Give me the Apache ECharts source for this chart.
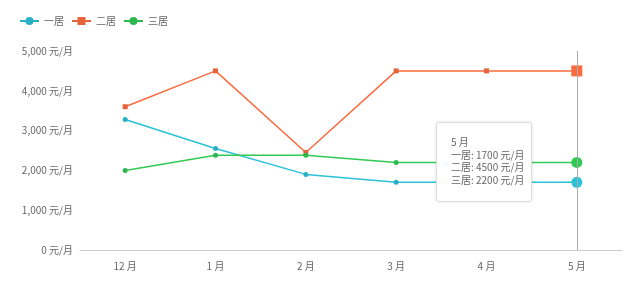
<!DOCTYPE html>
<html><head><meta charset="utf-8">
<script src="https://cdn.jsdelivr.net/npm/echarts@6/dist/echarts.min.js"></script>
<style>html,body{margin:0;padding:0;background:#fff}#c{width:640px;height:285px}</style>
</head><body><div id="c"></div>
<script>
var categories = ['12 月', '1 月', '2 月', '3 月', '4 月', '5 月'];
var seriesNames = ['一居', '二居', '三居'];
var one = [3280, 2550, 1900, 1700, 1700, 1700];
var two = [3600, 4500, 2450, 4500, 4500, 4500];
var three = [2000, 2380, 2380, 2200, 2200, 2200];
var yTicks = [0, 1000, 2000, 3000, 4000, 5000];
var colors = ['#27b0c6', '#e5623a', '#2db84d'];
var font = '"Noto Sans CJK SC", "Noto Sans", sans-serif';
var chart = echarts.init(document.getElementById('c'));
function mk(name, data, sym, color) {
  return {
    name: name, type: 'line', data: data, symbol: sym, symbolSize: 5,
    showAllSymbol: true,
    itemStyle: { color: color },
    lineStyle: { color: color, width: 1.5 },
    emphasis: { scale: 2.2, focus: 'none', lineStyle: { width: 1.5 } }
  };
}
chart.setOption({
  animation: false,
  textStyle: { fontFamily: font },
  legend: {
    left: 14, top: 11, itemWidth: 19, itemHeight: 10, itemGap: 7,
    textStyle: { color: '#666', fontSize: 10, fontFamily: font },
    data: seriesNames
  },
  grid: { left: 80, right: 18, top: 51, bottom: 35, containLabel: false },
  tooltip: {
    trigger: 'axis',
    position: [436, 122],
    backgroundColor: '#fff',
    borderColor: '#ddd',
    borderWidth: 1,
    padding: [13, 14, 14, 14],
    extraCssText: 'box-shadow:0 0 3px rgba(0,0,0,0.12);border-radius:3px;width:66px;',
    textStyle: { color: '#666', fontSize: 10, fontFamily: font, lineHeight: 13 },
    axisPointer: { type: 'line', lineStyle: { color: '#aaa', width: 1, type: 'solid' } },
    formatter: function (ps) {
      var s = ps[0].axisValue;
      ps.forEach(function (p) { s += '<br/>' + p.seriesName + ': ' + p.value + ' 元/月'; });
      return '<div style="line-height:12.7px;font-size:10px;white-space:nowrap">' + s + '</div>';
    }
  },
  xAxis: {
    type: 'category', data: categories, boundaryGap: true,
    axisLine: { lineStyle: { color: '#ccc' } },
    axisTick: { show: false },
    axisLabel: { color: '#666', fontSize: 10, margin: 11, fontFamily: font }
  },
  yAxis: {
    type: 'value', min: yTicks[0], max: yTicks[yTicks.length - 1], interval: 1000,
    axisLine: { show: false }, axisTick: { show: false },
    splitLine: { show: false },
    axisLabel: { color: '#666', fontSize: 10, margin: 7, fontFamily: font,
      formatter: function (v) { return v.toLocaleString('en-US') + ' 元/月'; } }
  },
  series: [
    mk(seriesNames[0], one, 'circle', colors[0]),
    mk(seriesNames[1], two, 'rect', colors[1]),
    mk(seriesNames[2], three, 'circle', colors[2])
  ]
});
chart.dispatchAction({ type: 'showTip', seriesIndex: 0, dataIndex: 5 });
</script></body></html>
